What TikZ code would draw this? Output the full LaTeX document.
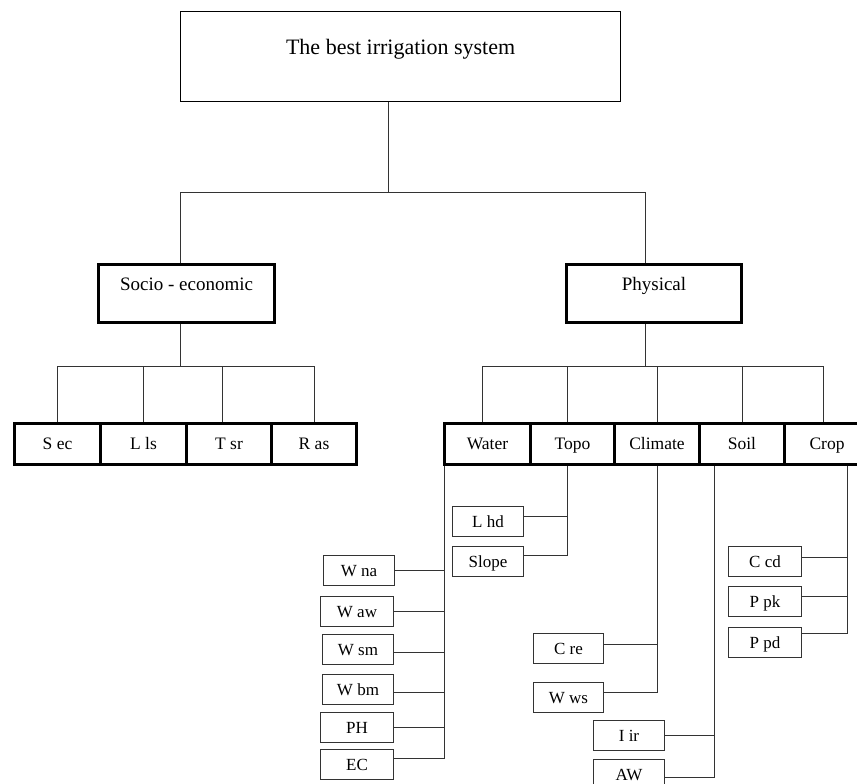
\documentclass[tikz,border=0pt]{standalone}
\usepackage{fontspec}
\setmainfont{Liberation Serif}
\begin{document}
\begin{tikzpicture}[x=1pt,y=-1pt,
  bigbox/.style={draw, line width=3pt, inner sep=0pt, anchor=north west, font=\fontsize{19}{22}\selectfont},
  rowbox/.style={draw, line width=3pt, inner sep=0pt, anchor=north west, minimum height=41pt, text height=13.5pt, text depth=3pt, font=\fontsize{17.5}{20}\selectfont},
  leaf/.style={draw=black!80, line width=1pt, inner sep=0pt, anchor=north west, minimum width=71pt, minimum height=30pt, text height=13.5pt, text depth=2.5pt, font=\fontsize{17}{20}\selectfont},
  link/.style={line width=1pt, draw=black!80}]
\clip (0,0) rectangle (857,784);
% top
\node[draw, line width=1.2pt, inner sep=0pt, anchor=north west, minimum width=440pt, text height=43pt, text depth=47pt, font=\fontsize{22}{26}\selectfont] (top) at (180,11) {The best irrigation system};
% level 1
\node[bigbox, minimum width=176pt, text height=26pt, text depth=32pt] (socio) at (97,263) {Socio - economic};
\node[bigbox, minimum width=175pt, text height=26pt, text depth=32pt] (phys) at (565,263) {Physical};
% level 2 socio
\node[rowbox, minimum width=86pt] (sec) at (13,422) {S ec};
\node[rowbox, minimum width=86pt] (lls) at (99,422) {L ls};
\node[rowbox, minimum width=85pt] (tsr) at (185,422) {T sr};
\node[rowbox, minimum width=85pt] (ras) at (270,422) {R as};
% level 2 physical
\node[rowbox, minimum width=86pt] (water) at (443,422) {Water};
\node[rowbox, minimum width=84pt] (topo) at (529,422) {Topo};
\node[rowbox, minimum width=85pt] (climate) at (613,422) {Climate};
\node[rowbox, minimum width=85pt] (soil) at (698,422) {Soil};
\node[rowbox, minimum width=85pt] (crop) at (783,422) {Crop};
% leaves water
\node[leaf] (wna) at (323,555) {W na};
\node[leaf, minimum width=73pt] (waw) at (320,596) {W aw};
\node[leaf] (wsm) at (322,634) {W sm};
\node[leaf] (wbm) at (322,674) {W bm};
\node[leaf, minimum width=73pt] (ph) at (320,712) {PH};
\node[leaf, minimum width=73pt] (ec) at (320,749) {EC};
% leaves topo
\node[leaf] (lhd) at (452,506) {L hd};
\node[leaf] (slope) at (452,546) {Slope};
% leaves climate
\node[leaf, minimum width=70pt] (cre) at (533,633) {C re};
\node[leaf, minimum width=70pt] (wws) at (533,682) {W ws};
% leaves soil
\node[leaf] (iir) at (593,720) {I ir};
\node[leaf] (aw) at (593,759) {AW};
% leaves crop
\node[leaf, minimum width=73pt] (ccd) at (728,546) {C cd};
\node[leaf, minimum width=73pt] (ppk) at (728,586) {P pk};
\node[leaf, minimum width=73pt] (ppd) at (728,627) {P pd};

% connectors top level
\coordinate (j0) at (388,192);
\coordinate (sL) at (180,192);
\coordinate (pR) at (645,192);
\draw[link] (top.south -| j0) -- (j0);
\draw[link] (socio.north -| sL) -- (sL) -- (pR) -- (phys.north -| pR);
% socio children
\coordinate (sb) at (180,366);
\draw[link] (socio.south -| sb) -- (sb);
\draw[link] (sec.north) -- (sec.north |- sb) -- (ras.north |- sb) -- (ras.north);
\draw[link] (lls.north) -- (lls.north |- sb);
\draw[link] ([xshift=-7pt]tsr.north) -- ([xshift=-7pt]tsr.north |- sb);
% physical children
\coordinate (pb) at (645,366);
\draw[link] (phys.south -| pb) -- (pb);
\draw[link] ([xshift=-5pt]water.north) -- ([xshift=-5pt]water.north |- pb) -- ([xshift=-4pt]crop.north |- pb) -- ([xshift=-4pt]crop.north);
\draw[link] ([xshift=-5pt]topo.north) -- ([xshift=-5pt]topo.north |- pb);
\draw[link] (climate.north) -- (climate.north |- pb);
\draw[link] (soil.north) -- (soil.north |- pb);
% water branch
\coordinate (wx) at ([xshift=1pt]water.south west);
\draw[link] (wx) |- ([yshift=6pt]ec.east);
\draw[link] (wna.east) -- (wna.east -| wx);
\draw[link] (waw.east) -- (waw.east -| wx);
\draw[link] ([yshift=-3pt]wsm.east) -- ([yshift=-3pt]wsm.east -| wx);
\draw[link] ([yshift=-3pt]wbm.east) -- ([yshift=-3pt]wbm.east -| wx);
\draw[link] (ph.east) -- (ph.east -| wx);
% topo branch
\coordinate (tx) at ([xshift=-5pt]topo.south);
\draw[link] (tx) |- ([yshift=6pt]slope.east);
\draw[link] ([yshift=5pt]lhd.east) -- ([yshift=5pt]lhd.east -| tx);
% climate branch
\coordinate (cx) at (climate.south);
\draw[link] (cx) |- ([yshift=5pt]wws.east);
\draw[link] ([yshift=4pt]cre.east) -- ([yshift=4pt]cre.east -| cx);
% soil branch
\coordinate (sx) at ([xshift=16pt]soil.south west);
\draw[link] (sx) |- ([yshift=-3pt]aw.east);
\draw[link] (iir.east) -- (iir.east -| sx);
% crop branch
\coordinate (crx) at ([xshift=64pt]crop.south west);
\draw[link] (crx) |- ([yshift=9pt]ppd.east);
\draw[link] ([yshift=5pt]ppk.east) -- ([yshift=5pt]ppk.east -| crx);
\draw[link] ([yshift=4pt]ccd.east) -- ([yshift=4pt]ccd.east -| crx);
\end{tikzpicture}
\end{document}
